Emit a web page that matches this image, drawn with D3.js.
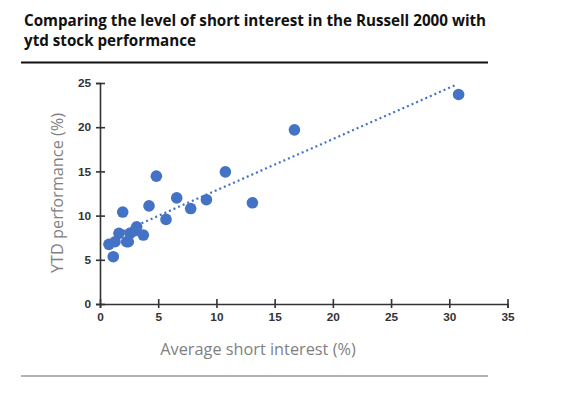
<!DOCTYPE html>
<html>
<head>
<meta charset="utf-8">
<script src="https://cdn.jsdelivr.net/npm/d3@7"></script>
<style>
  body { margin: 0; background: #fff; }
  svg { display: block; }
</style>
</head>
<body>
<div id="chart"></div>
<script>
;(function () {

    // Values
    var titleLines = ['Comparing the level of short interest in the Russell 2000 with',
                      'ytd stock performance'];
    var shortInterest = [0.77, 1.14, 1.29, 1.63, 1.95, 2.29, 2.43, 2.58, 3.0, 3.15, 3.72,
                         4.21, 4.84, 5.67, 6.59, 7.79, 9.14, 10.77, 13.09, 16.7, 30.8];
    var ytdPerf       = [6.75, 5.35, 7.04, 8.0, 10.4, 7.04, 7.04, 8.0, 8.3, 8.73, 7.8,
                         11.1, 14.46, 9.57, 12.0, 10.8, 11.8, 14.95, 11.45, 19.7, 23.7];
    var trendX = [1.6, 30.6];
    var trendY = [8.0, 24.8];
    var xTicks = [0, 5, 10, 15, 20, 25, 30, 35];
    var yTicks = [0, 5, 10, 15, 20, 25];

    var width = 580, height = 399;
    var blue = '#4472c4';

    var svg = d3.select('#chart').append('svg')
        .attr('width', width)
        .attr('height', height);

    // title + rules
    svg.append('g').selectAll('text')
        .data(titleLines)
        .enter()
        .append('text')
        .attr('x', 24)
        .attr('y', function (d, i) { return 26 + i * 20; })
        .attr('font-family', 'Open Sans, sans-serif')
        .attr('font-weight', 700)
        .attr('font-size', 15.2)
        .attr('fill', '#111')
        .text(function (d) { return d; });

    svg.append('line')
        .attr('x1', 21).attr('x2', 488)
        .attr('y1', 62.5).attr('y2', 62.5)
        .attr('stroke', '#111').attr('stroke-width', 2.2);

    svg.append('line')
        .attr('x1', 21).attr('x2', 488)
        .attr('y1', 376).attr('y2', 376)
        .attr('stroke', '#999').attr('stroke-width', 1.5);

    var x = d3.scaleLinear().domain([0, 35]).range([100, 507.5]);
    var y = d3.scaleLinear().domain([0, 25]).range([304, 83]);

    var tickFont = 'Liberation Sans, Arial, sans-serif';

    var xAxis = svg.append('g')
        .attr('transform', 'translate(0,304)')
        .call(d3.axisBottom(x).tickValues(xTicks).tickSize(4).tickFormat(d3.format('d')));
    xAxis.selectAll('.tick line').attr('y1', -5);
    xAxis.selectAll('text').attr('dy', '0.71em').attr('y', 9);

    var yAxis = svg.append('g')
        .attr('transform', 'translate(100,0)')
        .call(d3.axisLeft(y).tickValues(yTicks).tickSize(4).tickFormat(d3.format('d')));
    yAxis.selectAll('.tick line').attr('x1', 5);
    yAxis.selectAll('text').attr('x', -9);

    svg.selectAll('.domain').attr('stroke', '#333').attr('stroke-width', 1.6);
    svg.selectAll('.tick line').attr('stroke', '#333').attr('stroke-width', 1.6);
    svg.selectAll('.tick text')
        .attr('font-family', tickFont)
        .attr('font-weight', 700)
        .attr('font-size', 11.8)
        .attr('fill', '#333');

    // axis titles
    svg.append('text')
        .attr('x', 258)
        .attr('y', 355)
        .attr('text-anchor', 'middle')
        .attr('font-family', 'Open Sans, sans-serif')
        .attr('font-size', 16.3)
        .attr('fill', '#7f7f7f')
        .text('Average short interest (%)');

    svg.append('text')
        .attr('transform', 'translate(63,193) rotate(-90)')
        .attr('text-anchor', 'middle')
        .attr('font-family', 'Open Sans, sans-serif')
        .attr('font-size', 16.3)
        .attr('fill', '#7f7f7f')
        .text('YTD performance (%)');

    // trend line
    var line = d3.line()
        .x(function (d) { return x(d); })
        .y(function (d, i) { return y(trendY[i]); });
    svg.append('path')
        .datum(trendX)
        .attr('d', line)
        .attr('fill', 'none')
        .attr('stroke', blue)
        .attr('stroke-width', 2.2)
        .attr('stroke-dasharray', '2,3');

    // points
    svg.append('g').selectAll('circle')
        .data(shortInterest)
        .enter()
        .append('circle')
        .attr('cx', function (d) { return x(d); })
        .attr('cy', function (d, i) { return y(ytdPerf[i]); })
        .attr('r', 5.8)
        .attr('fill', blue);

})();
</script>
</body>
</html>
